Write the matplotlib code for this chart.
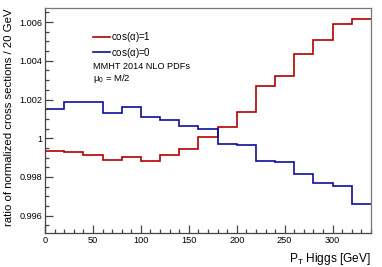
import matplotlib
matplotlib.use("Agg")
import matplotlib.pyplot as plt
from matplotlib.ticker import MultipleLocator, FuncFormatter
import numpy as np

# bin edges in Higgs pT (GeV)
edges = np.arange(0, 341, 20)

# ratio of normalized cross sections per 20 GeV bin
ratio_cos1 = [0.99936, 0.99930, 0.99914, 0.99890, 0.99902, 0.99885, 0.99911, 0.99945,
              1.00009, 1.00060, 1.00137, 1.00268, 1.00323, 1.00433, 1.00509, 1.00588, 1.00615]
ratio_cos0 = [1.00151, 1.00189, 1.00189, 1.00132, 1.00160, 1.00108, 1.00096, 1.00064,
              1.00048, 0.99969, 0.99964, 0.99885, 0.99876, 0.99818, 0.99771, 0.99751, 0.99663]

plt.rcParams['font.family'] = ['Liberation Sans', 'DejaVu Sans']
plt.rcParams['mathtext.fontset'] = 'custom'
plt.rcParams['mathtext.rm'] = 'Liberation Sans'
plt.rcParams['mathtext.it'] = 'Liberation Sans'

fig = plt.figure(figsize=(3.82, 2.67), dpi=100)
ax = fig.add_axes([0.118, 0.126, 0.853, 0.843])

red = '#b30000'
blue = '#0d0d9c'
ax.stairs(ratio_cos1, edges, baseline=None, color=red, linewidth=1.2, label=r'cos($\alpha$)=1')
ax.stairs(ratio_cos0, edges, baseline=None, color=blue, linewidth=1.2, label=r'cos($\alpha$)=0')

ax.set_xlim(0, 340)
ax.set_ylim(0.99509, 1.00671)

ax.xaxis.set_major_locator(MultipleLocator(50))
ax.xaxis.set_minor_locator(MultipleLocator(10))
ax.yaxis.set_major_locator(MultipleLocator(0.002))
ax.yaxis.set_minor_locator(MultipleLocator(0.0005))

def yfmt(v, pos):
    s = f'{v:.3f}'.rstrip('0').rstrip('.')
    return s
ax.yaxis.set_major_formatter(FuncFormatter(yfmt))

ax.tick_params(which='both', direction='in', top=False, right=False,
               labelsize=6.6, color='#444444', pad=2)
ax.tick_params(which='major', length=6, width=0.9)
ax.tick_params(which='minor', length=3, width=0.9)

for side in ['left', 'bottom']:
    ax.spines[side].set_color('#444444')
    ax.spines[side].set_linewidth(0.9)
for side in ['top', 'right']:
    ax.spines[side].set_color('#777777')
    ax.spines[side].set_linewidth(0.9)

ax.set_ylabel('ratio of normalized cross sections / 20 GeV', fontsize=8.2,
              loc='top', labelpad=4)
ax.set_xlabel(r'P$_{\mathrm{T}}$ Higgs [GeV]', fontsize=8.6, loc='right', labelpad=4)

ax.legend(loc='upper left', bbox_to_anchor=(0.134, 0.919), frameon=False,
          fontsize=7.0, handlelength=1.75, handletextpad=0.15, labelspacing=0.15,
          borderaxespad=0)
ax.text(0.147, 0.742, 'MMHT 2014 NLO PDFs', transform=ax.transAxes, fontsize=6.6,
        va='center', ha='left')
ax.text(0.147, 0.689, r'$\mu_{0}$ = M/2', transform=ax.transAxes, fontsize=6.8,
        va='center', ha='left')

fig.savefig('out.png', dpi=100)
